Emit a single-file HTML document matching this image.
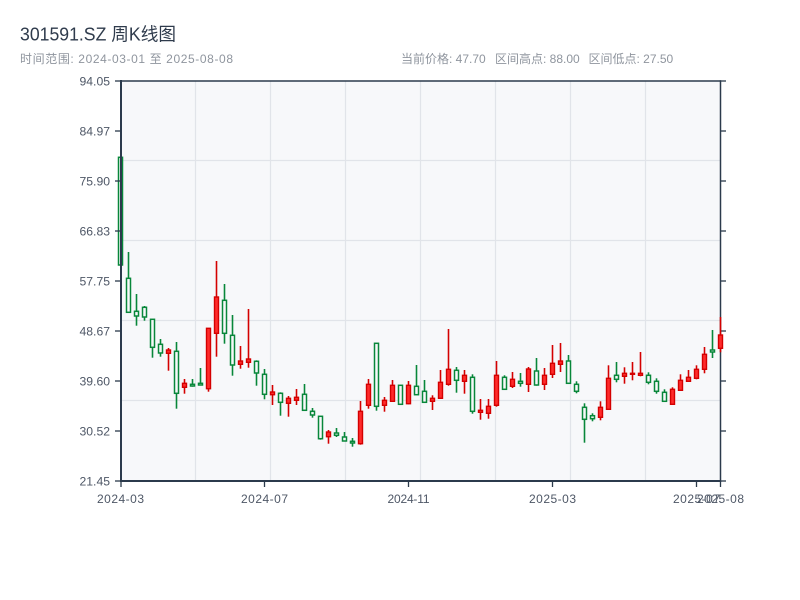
<!DOCTYPE html>
<html>
<head>
<meta charset="utf-8">
<style>
  html,body{margin:0;padding:0;background:#ffffff;}
  svg{display:block;}
  text{font-family:"Liberation Sans","Noto Sans CJK SC",sans-serif;}
  .g line{stroke:#08873a;stroke-width:1.6;}
  .g rect{fill:#f7f8fa;stroke:#08873a;stroke-width:1.5;}
  .r line{stroke:#d40000;stroke-width:1.6;}
  .r rect{fill:#ff2b2b;stroke:#d40000;stroke-width:1.4;}
  .grid line{stroke:#e1e4e9;stroke-width:1.2;}
  .ax line{stroke:#2b3a4c;}
  .yl text{font-size:12px;fill:#4e5766;text-anchor:end;}
  .xl text{font-size:12px;fill:#4e5766;text-anchor:middle;}
</style>
</head>
<body>
<svg width="800" height="600" viewBox="0 0 800 600" xmlns="http://www.w3.org/2000/svg">
  <rect x="0" y="0" width="800" height="600" fill="#ffffff"/>
  <text x="20" y="40.5" font-size="18" fill="#2f3b4c" textLength="156" lengthAdjust="spacingAndGlyphs">301591.SZ 周K线图</text>
  <text x="20" y="63" font-size="12" fill="#8f959e" textLength="213" lengthAdjust="spacing">时间范围: 2024-03-01 至 2025-08-08</text>
  <text x="401" y="63" font-size="12" fill="#8f959e">当前价格: 47.70</text>
  <text x="495" y="63" font-size="12" fill="#8f959e">区间高点: 88.00</text>
  <text x="588.5" y="63" font-size="12" fill="#8f959e">区间低点: 27.50</text>

  <rect x="121" y="81" width="599" height="400" fill="#f7f8fa"/>
  <g class="grid">
    <line x1="121" y1="160.5" x2="720" y2="160.5"/>
    <line x1="121" y1="240.5" x2="720" y2="240.5"/>
    <line x1="121" y1="320.5" x2="720" y2="320.5"/>
    <line x1="121" y1="400.5" x2="720" y2="400.5"/>
    <line x1="195.5" y1="81" x2="195.5" y2="481"/>
    <line x1="270.5" y1="81" x2="270.5" y2="481"/>
    <line x1="345.5" y1="81" x2="345.5" y2="481"/>
    <line x1="420.5" y1="81" x2="420.5" y2="481"/>
    <line x1="495.5" y1="81" x2="495.5" y2="481"/>
    <line x1="570.5" y1="81" x2="570.5" y2="481"/>
    <line x1="645.5" y1="81" x2="645.5" y2="481"/>
  </g>

  <!-- candles -->
  <g class="g"><line x1="120.5" y1="157.3" x2="120.5" y2="265"/><rect x="118.5" y="157.3" width="4" height="107.7"/></g>
  <g class="g"><line x1="128.5" y1="252" x2="128.5" y2="312.3"/><rect x="126.5" y="278.3" width="4" height="34"/></g>
  <g class="g"><line x1="136.5" y1="294" x2="136.5" y2="325.7"/><rect x="134.5" y="311.3" width="4" height="4.7"/></g>
  <g class="g"><line x1="144.5" y1="306" x2="144.5" y2="320.7"/><rect x="142.5" y="307.3" width="4" height="9.7"/></g>
  <g class="g"><line x1="152.5" y1="319.3" x2="152.5" y2="357.7"/><rect x="150.5" y="319.3" width="4" height="28"/></g>
  <g class="g"><line x1="160.5" y1="339" x2="160.5" y2="356.7"/><rect x="158.5" y="344.3" width="4" height="8.7"/></g>
  <g class="r"><line x1="168.5" y1="348" x2="168.5" y2="370.7"/><rect x="166.5" y="350" width="4" height="3.3"/></g>
  <g class="g"><line x1="176.5" y1="342" x2="176.5" y2="408.7"/><rect x="174.5" y="351.3" width="4" height="42"/></g>
  <g class="r"><line x1="184.5" y1="379" x2="184.5" y2="393.7"/><rect x="182.5" y="383.3" width="4" height="4"/></g>
  <g class="g"><line x1="192.5" y1="379" x2="192.5" y2="386.7"/><rect x="190.5" y="384.3" width="4" height="1.7"/></g>
  <g class="g"><line x1="200.5" y1="368" x2="200.5" y2="385.3"/><rect x="198.5" y="383.3" width="4" height="1.7"/></g>
  <g class="r"><line x1="208.5" y1="328.3" x2="208.5" y2="391.7"/><rect x="206.5" y="328.3" width="4" height="60.4"/></g>
  <g class="r"><line x1="216.5" y1="261" x2="216.5" y2="356.7"/><rect x="214.5" y="297" width="4" height="36.3"/></g>
  <g class="g"><line x1="224.5" y1="284" x2="224.5" y2="343.7"/><rect x="222.5" y="300.3" width="4" height="33"/></g>
  <g class="g"><line x1="232.5" y1="315" x2="232.5" y2="375.7"/><rect x="230.5" y="335.3" width="4" height="29.7"/></g>
  <g class="r"><line x1="240.5" y1="346" x2="240.5" y2="368.7"/><rect x="238.5" y="361" width="4" height="3.3"/></g>
  <g class="r"><line x1="248.5" y1="309" x2="248.5" y2="367.7"/><rect x="246.5" y="359" width="4" height="3.3"/></g>
  <g class="g"><line x1="256.5" y1="360.3" x2="256.5" y2="385.7"/><rect x="254.5" y="361.3" width="4" height="11.7"/></g>
  <g class="g"><line x1="264.5" y1="369" x2="264.5" y2="399.3"/><rect x="262.5" y="374.3" width="4" height="20"/></g>
  <g class="r"><line x1="272.5" y1="385" x2="272.5" y2="405"/><rect x="270.5" y="392" width="4" height="2.7"/></g>
  <g class="g"><line x1="280.5" y1="392.3" x2="280.5" y2="415.7"/><rect x="278.5" y="393.3" width="4" height="9"/></g>
  <g class="r"><line x1="288.5" y1="396" x2="288.5" y2="416.7"/><rect x="286.5" y="398.3" width="4" height="5"/></g>
  <g class="r"><line x1="296.5" y1="389" x2="296.5" y2="405"/><rect x="294.5" y="397.3" width="4" height="3"/></g>
  <g class="g"><line x1="304.5" y1="384" x2="304.5" y2="410.3"/><rect x="302.5" y="394.3" width="4" height="16"/></g>
  <g class="g"><line x1="312.5" y1="408" x2="312.5" y2="417.7"/><rect x="310.5" y="411.3" width="4" height="3.7"/></g>
  <g class="g"><line x1="320.5" y1="416.3" x2="320.5" y2="439.7"/><rect x="318.5" y="416.3" width="4" height="22.4"/></g>
  <g class="r"><line x1="328.5" y1="430" x2="328.5" y2="443.7"/><rect x="326.5" y="432" width="4" height="4.7"/></g>
  <g class="g"><line x1="336.5" y1="428" x2="336.5" y2="437"/><rect x="334.5" y="433" width="4" height="2.3"/></g>
  <g class="g"><line x1="344.5" y1="432" x2="344.5" y2="441"/><rect x="342.5" y="437" width="4" height="4"/></g>
  <g class="g"><line x1="352.5" y1="438" x2="352.5" y2="446.7"/><rect x="350.5" y="441.3" width="4" height="1.7"/></g>
  <g class="r"><line x1="360.5" y1="401" x2="360.5" y2="444.7"/><rect x="358.5" y="411.3" width="4" height="32.4"/></g>
  <g class="r"><line x1="368.5" y1="379" x2="368.5" y2="408.7"/><rect x="366.5" y="384.3" width="4" height="21"/></g>
  <g class="g"><line x1="376.5" y1="343.3" x2="376.5" y2="410.7"/><rect x="374.5" y="343.3" width="4" height="63"/></g>
  <g class="r"><line x1="384.5" y1="397" x2="384.5" y2="411.7"/><rect x="382.5" y="400.3" width="4" height="5"/></g>
  <g class="r"><line x1="392.5" y1="380" x2="392.5" y2="401.3"/><rect x="390.5" y="385.3" width="4" height="16"/></g>
  <g class="g"><line x1="400.5" y1="385.3" x2="400.5" y2="404.3"/><rect x="398.5" y="385.3" width="4" height="19"/></g>
  <g class="r"><line x1="408.5" y1="381" x2="408.5" y2="404.3"/><rect x="406.5" y="385.3" width="4" height="18.4"/></g>
  <g class="g"><line x1="416.5" y1="365" x2="416.5" y2="394.7"/><rect x="414.5" y="386.3" width="4" height="8.4"/></g>
  <g class="g"><line x1="424.5" y1="380" x2="424.5" y2="402.3"/><rect x="422.5" y="391.3" width="4" height="11"/></g>
  <g class="r"><line x1="432.5" y1="395.3" x2="432.5" y2="410"/><rect x="430.5" y="398.3" width="4" height="3"/></g>
  <g class="r"><line x1="440.5" y1="370" x2="440.5" y2="398.3"/><rect x="438.5" y="382.3" width="4" height="16"/></g>
  <g class="r"><line x1="448.5" y1="329" x2="448.5" y2="385.7"/><rect x="446.5" y="369.3" width="4" height="15"/></g>
  <g class="g"><line x1="456.5" y1="367" x2="456.5" y2="392.7"/><rect x="454.5" y="370.3" width="4" height="10"/></g>
  <g class="r"><line x1="464.5" y1="370" x2="464.5" y2="393.7"/><rect x="462.5" y="375.3" width="4" height="6"/></g>
  <g class="g"><line x1="472.5" y1="374.3" x2="472.5" y2="413.7"/><rect x="470.5" y="377.3" width="4" height="34"/></g>
  <g class="r"><line x1="480.5" y1="399" x2="480.5" y2="419.7"/><rect x="478.5" y="410.3" width="4" height="2"/></g>
  <g class="r"><line x1="488.5" y1="399" x2="488.5" y2="418.7"/><rect x="486.5" y="406.3" width="4" height="7"/></g>
  <g class="r"><line x1="496.5" y1="361" x2="496.5" y2="406.7"/><rect x="494.5" y="375.3" width="4" height="30"/></g>
  <g class="g"><line x1="504.5" y1="375.3" x2="504.5" y2="389.3"/><rect x="502.5" y="377.3" width="4" height="12"/></g>
  <g class="r"><line x1="512.5" y1="372" x2="512.5" y2="388"/><rect x="510.5" y="379.3" width="4" height="7"/></g>
  <g class="g"><line x1="520.5" y1="373" x2="520.5" y2="386.7"/><rect x="518.5" y="381.3" width="4" height="2"/></g>
  <g class="r"><line x1="528.5" y1="367" x2="528.5" y2="392"/><rect x="526.5" y="369" width="4" height="15.3"/></g>
  <g class="g"><line x1="536.5" y1="358" x2="536.5" y2="385.7"/><rect x="534.5" y="371" width="4" height="14"/></g>
  <g class="r"><line x1="544.5" y1="368" x2="544.5" y2="390"/><rect x="542.5" y="375.3" width="4" height="9"/></g>
  <g class="r"><line x1="552.5" y1="345" x2="552.5" y2="378"/><rect x="550.5" y="363.3" width="4" height="11"/></g>
  <g class="r"><line x1="560.5" y1="343" x2="560.5" y2="372"/><rect x="558.5" y="361" width="4" height="3.3"/></g>
  <g class="g"><line x1="568.5" y1="355" x2="568.5" y2="383.3"/><rect x="566.5" y="361" width="4" height="22.3"/></g>
  <g class="g"><line x1="576.5" y1="381.3" x2="576.5" y2="393.3"/><rect x="574.5" y="384.3" width="4" height="7"/></g>
  <g class="g"><line x1="584.5" y1="403.3" x2="584.5" y2="442.7"/><rect x="582.5" y="407.3" width="4" height="12"/></g>
  <g class="g"><line x1="592.5" y1="413.3" x2="592.5" y2="421.3"/><rect x="590.5" y="415.7" width="4" height="3"/></g>
  <g class="r"><line x1="600.5" y1="401.3" x2="600.5" y2="420.3"/><rect x="598.5" y="407.3" width="4" height="10"/></g>
  <g class="r"><line x1="608.5" y1="365.3" x2="608.5" y2="409.3"/><rect x="606.5" y="378.3" width="4" height="31"/></g>
  <g class="g"><line x1="616.5" y1="362" x2="616.5" y2="382.3"/><rect x="614.5" y="375.3" width="4" height="4"/></g>
  <g class="r"><line x1="624.5" y1="367.3" x2="624.5" y2="383.7"/><rect x="622.5" y="373.3" width="4" height="3"/></g>
  <g class="r"><line x1="632.5" y1="362" x2="632.5" y2="380.3"/><rect x="630.5" y="373.3" width="4" height="1"/></g>
  <g class="r"><line x1="640.5" y1="352" x2="640.5" y2="376.3"/><rect x="638.5" y="373.3" width="4" height="2"/></g>
  <g class="g"><line x1="648.5" y1="372.3" x2="648.5" y2="384.3"/><rect x="646.5" y="375.3" width="4" height="7"/></g>
  <g class="g"><line x1="656.5" y1="378.3" x2="656.5" y2="393.7"/><rect x="654.5" y="381.3" width="4" height="10"/></g>
  <g class="g"><line x1="664.5" y1="389.3" x2="664.5" y2="401.3"/><rect x="662.5" y="392.3" width="4" height="9"/></g>
  <g class="r"><line x1="672.5" y1="387.3" x2="672.5" y2="404.3"/><rect x="670.5" y="389.3" width="4" height="15"/></g>
  <g class="r"><line x1="680.5" y1="374.3" x2="680.5" y2="390.3"/><rect x="678.5" y="380.3" width="4" height="10"/></g>
  <g class="r"><line x1="688.5" y1="370" x2="688.5" y2="381.3"/><rect x="686.5" y="377.3" width="4" height="4"/></g>
  <g class="r"><line x1="696.5" y1="365.3" x2="696.5" y2="379.3"/><rect x="694.5" y="369.3" width="4" height="9"/></g>
  <g class="r"><line x1="704.5" y1="347" x2="704.5" y2="373.3"/><rect x="702.5" y="354.3" width="4" height="15"/></g>
  <g class="g"><line x1="712.5" y1="330" x2="712.5" y2="358"/><rect x="710.5" y="350" width="4" height="2"/></g>

  <!-- axes -->
  <g class="ax">
    <line x1="121" y1="81" x2="720.5" y2="81" stroke-width="1.5"/>
    <line x1="720.5" y1="80.3" x2="720.5" y2="482" stroke-width="1.5"/>
    <line x1="121" y1="80" x2="121" y2="482" stroke-width="2"/>
    <line x1="120" y1="481" x2="721" y2="481" stroke-width="2"/>
    <line x1="115" y1="81" x2="121" y2="81" stroke-width="1.3"/>
    <line x1="115" y1="131" x2="121" y2="131" stroke-width="1.3"/>
    <line x1="115" y1="181" x2="121" y2="181" stroke-width="1.3"/>
    <line x1="115" y1="231" x2="121" y2="231" stroke-width="1.3"/>
    <line x1="115" y1="281" x2="121" y2="281" stroke-width="1.3"/>
    <line x1="115" y1="331" x2="121" y2="331" stroke-width="1.3"/>
    <line x1="115" y1="381" x2="121" y2="381" stroke-width="1.3"/>
    <line x1="115" y1="431" x2="121" y2="431" stroke-width="1.3"/>
    <line x1="115" y1="481" x2="121" y2="481" stroke-width="1.3"/>
    <line x1="720" y1="81" x2="726" y2="81" stroke-width="1.3"/>
    <line x1="720" y1="131" x2="726" y2="131" stroke-width="1.3"/>
    <line x1="720" y1="181" x2="726" y2="181" stroke-width="1.3"/>
    <line x1="720" y1="231" x2="726" y2="231" stroke-width="1.3"/>
    <line x1="720" y1="281" x2="726" y2="281" stroke-width="1.3"/>
    <line x1="720" y1="331" x2="726" y2="331" stroke-width="1.3"/>
    <line x1="720" y1="381" x2="726" y2="381" stroke-width="1.3"/>
    <line x1="720" y1="431" x2="726" y2="431" stroke-width="1.3"/>
    <line x1="720" y1="481" x2="726" y2="481" stroke-width="1.3"/>
    <line x1="121" y1="481" x2="121" y2="487" stroke-width="1.3"/>
    <line x1="264.5" y1="481" x2="264.5" y2="487" stroke-width="1.3"/>
    <line x1="408.5" y1="481" x2="408.5" y2="487" stroke-width="1.3"/>
    <line x1="552.5" y1="481" x2="552.5" y2="487" stroke-width="1.3"/>
    <line x1="696.5" y1="481" x2="696.5" y2="487" stroke-width="1.3"/>
    <line x1="720.5" y1="481" x2="720.5" y2="487" stroke-width="1.3"/>
  </g>

  <g class="r"><line x1="720.5" y1="317" x2="720.5" y2="352.3"/><rect x="718.5" y="335" width="4" height="13.3"/></g>

  <g class="yl">
    <text x="110" y="85.5" textLength="30.5" lengthAdjust="spacingAndGlyphs">94.05</text>
    <text x="110" y="135.5" textLength="30.5" lengthAdjust="spacingAndGlyphs">84.97</text>
    <text x="110" y="185.5" textLength="30.5" lengthAdjust="spacingAndGlyphs">75.90</text>
    <text x="110" y="235.5" textLength="30.5" lengthAdjust="spacingAndGlyphs">66.83</text>
    <text x="110" y="285.5" textLength="30.5" lengthAdjust="spacingAndGlyphs">57.75</text>
    <text x="110" y="335.5" textLength="30.5" lengthAdjust="spacingAndGlyphs">48.67</text>
    <text x="110" y="385.5" textLength="30.5" lengthAdjust="spacingAndGlyphs">39.60</text>
    <text x="110" y="435.5" textLength="30.5" lengthAdjust="spacingAndGlyphs">30.52</text>
    <text x="110" y="485.5" textLength="30.5" lengthAdjust="spacingAndGlyphs">21.45</text>
  </g>
  <g class="xl">
    <text x="120.5" y="503" textLength="47" lengthAdjust="spacing">2024-03</text>
    <text x="264.5" y="503" textLength="47" lengthAdjust="spacing">2024-07</text>
    <text x="408.5" y="503" textLength="42" lengthAdjust="spacing">2024-11</text>
    <text x="552.5" y="503" textLength="47" lengthAdjust="spacing">2025-03</text>
    <text x="696.5" y="503" textLength="47" lengthAdjust="spacing">2025-07</text>
    <text x="720.5" y="503" textLength="47" lengthAdjust="spacing">2025-08</text>
  </g>
</svg>
</body>
</html>
